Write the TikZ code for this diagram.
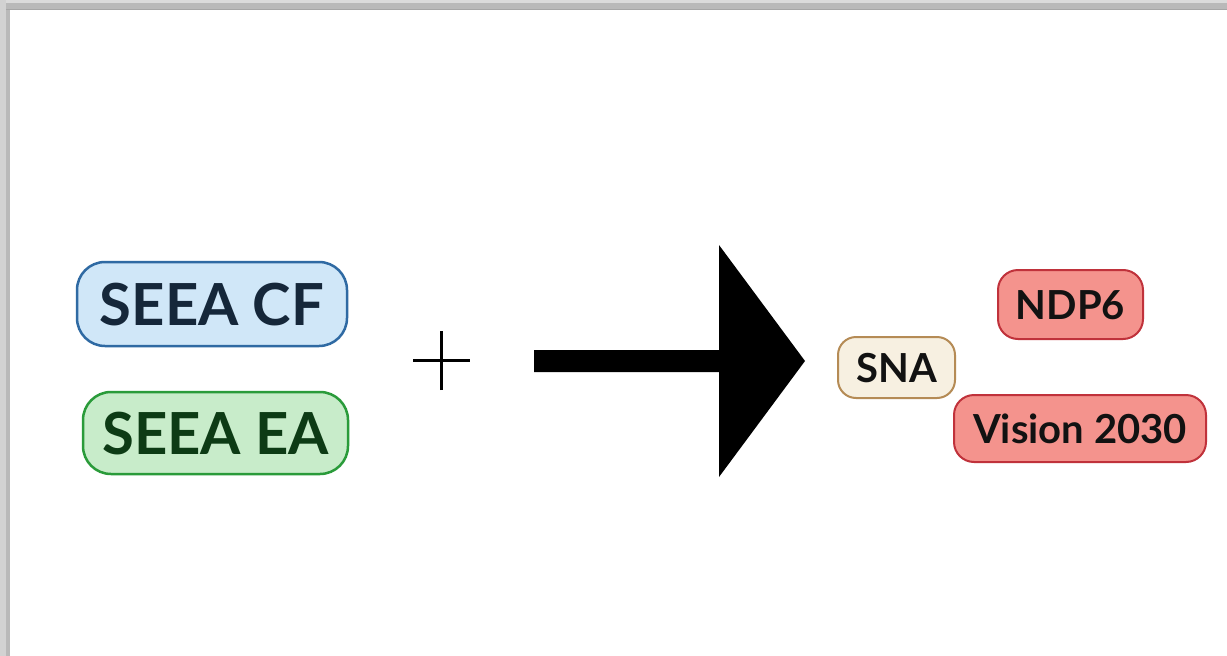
\documentclass[tikz,border=0pt]{standalone}
\usepackage{fontspec}
\setmainfont{Lato}
\definecolor{cfFill}{HTML}{D0E7F8}
\definecolor{cfDraw}{HTML}{2F6AA3}
\definecolor{cfText}{HTML}{15273A}
\definecolor{eaFill}{HTML}{C8ECCA}
\definecolor{eaDraw}{HTML}{2A9B3A}
\definecolor{eaText}{HTML}{0D3B15}
\definecolor{snaFill}{HTML}{F7F0E1}
\definecolor{snaDraw}{HTML}{B58B55}
\definecolor{redFill}{HTML}{F4938D}
\definecolor{redDraw}{HTML}{C0323B}
\tikzset{
  bigbox/.style={draw, rounded corners=28pt, line width=2.5pt, inner sep=0pt,
    font=\fontsize{58}{60}\selectfont\bfseries, text height=42pt, text depth=0pt},
  smallbox/.style={draw, rounded corners=20pt, line width=2pt, inner sep=0pt,
    font=\fontsize{40}{42}\selectfont\bfseries, text height=29pt, text depth=0pt, text=black!93},
}
\begin{document}
\begin{tikzpicture}[x=1pt,y=-1pt]
\useasboundingbox (0,0) rectangle (1227,656);
\fill[white] (0,0) rectangle (1227,656);
% window shadow
\fill[gray!28] (0,0) rectangle (1227,3);
\fill[gray!55] (0,3) rectangle (1227,9);
\fill[gray!70] (0,9) rectangle (1227,10);
\fill[gray!35] (0,0) rectangle (6,656);
\fill[gray!55] (6,10) rectangle (10,656);
% boxes
\node[bigbox, fill=cfFill, draw=cfDraw, text=cfText, minimum width=270pt, minimum height=84pt] (cf) at (212,304) {SEEA CF};
\node[bigbox, fill=eaFill, draw=eaDraw, text=eaText, minimum width=265pt, minimum height=82pt] (ea) at (215.5,433) {SEEA EA};
\node[smallbox, fill=snaFill, draw=snaDraw, minimum width=117pt, minimum height=61pt, rounded corners=18pt] (sna) at (896.5,367.5) {SNA};
\node[smallbox, fill=redFill, draw=redDraw, minimum width=145pt, minimum height=69pt] (ndp) at (1070.5,304.5) {NDP6};
\node[smallbox, fill=redFill, draw=redDraw, minimum width=252pt, minimum height=67pt] (vis) at (1080,428.5) {Vision 2030};
% plus sign
\coordinate (plus) at (441,360);
\draw[line width=3pt] ([xshift=-28pt]plus) -- ([xshift=29pt]plus);
\draw[line width=3pt] ([yshift=-30pt]plus) -- ([yshift=29pt]plus);
% big arrow
\fill[black] (534,350) -- (719,350) -- (719,245) -- (805,361) -- (719,477) -- (719,372) -- (534,372) -- cycle;
\end{tikzpicture}
\end{document}
